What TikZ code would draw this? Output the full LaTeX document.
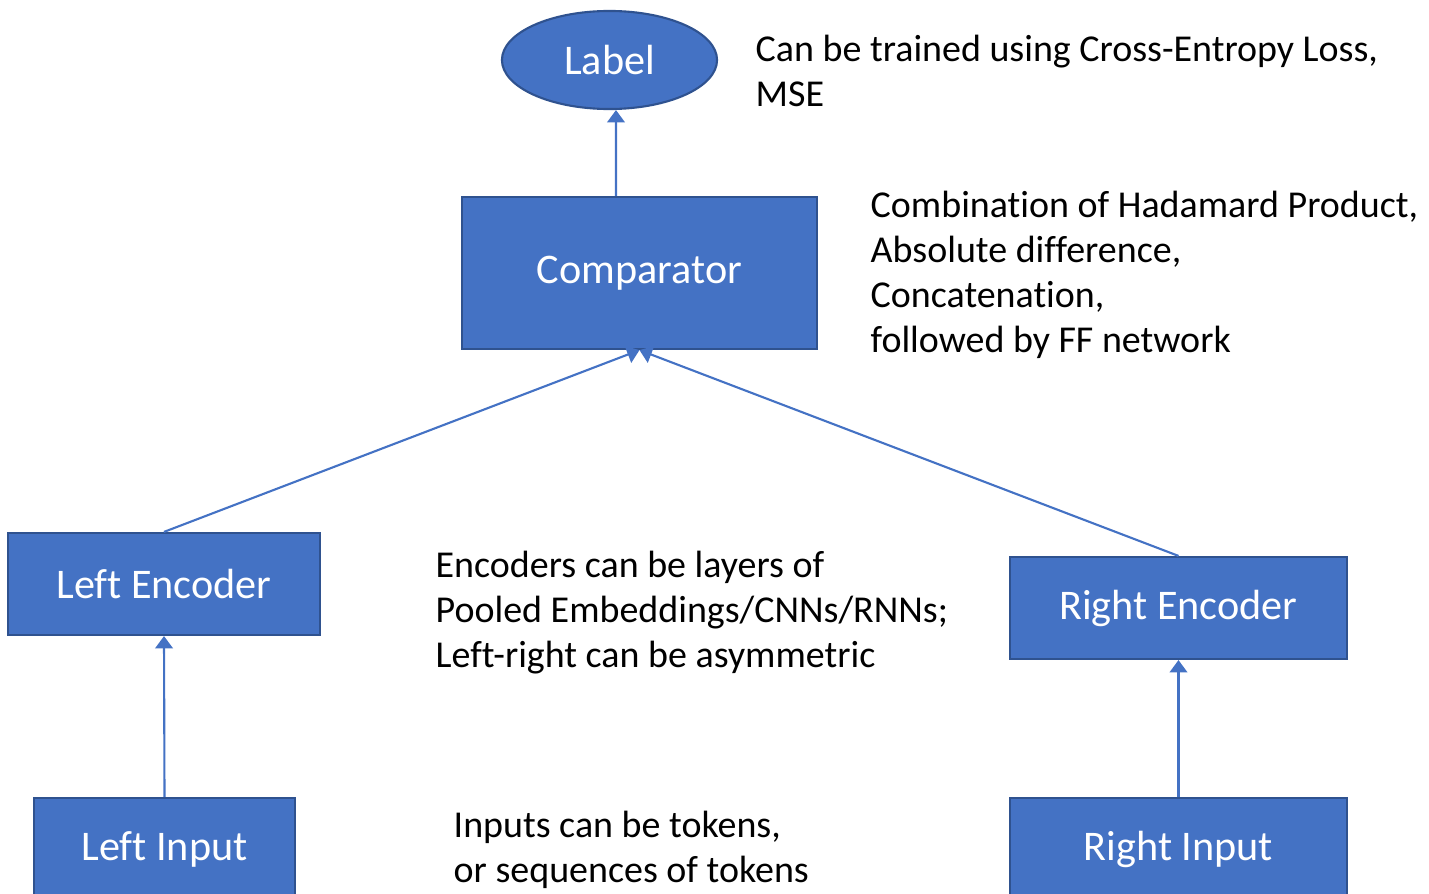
\documentclass[tikz,border=0pt]{standalone}
\usepackage{fontspec}
\setmainfont{Carlito}[Ligatures=NoCommon]
\usetikzlibrary{shapes.geometric,arrows.meta}
\definecolor{boxblue}{HTML}{4472C4}
\definecolor{edgeblue}{HTML}{2F528F}
\begin{document}
\begin{tikzpicture}[x=0.01cm,y=-0.01cm,
  box/.style={draw=edgeblue, fill=boxblue, line width=0.6pt, text=white, align=center, inner sep=0pt, font=\fontsize{12}{14}\selectfont},
  note/.style={anchor=base west, align=left, inner sep=0pt, font=\fontsize{10.8}{12.8}\selectfont},
  arr/.style={draw=boxblue, line width=0.6pt, -{Triangle[width=5pt,length=3.5pt]}}]
\useasboundingbox (0,0) rectangle (1429,894);
\clip (0,0) rectangle (1429,894);
\node[box, ellipse, minimum width=2.15cm, minimum height=0.98cm] (lbl) at (609.5,60) {Label};
\node[box, minimum width=3.55cm, minimum height=1.52cm] (comp) at (639.5,273) {Comparator};
\node[box, minimum width=3.12cm, minimum height=1.02cm] (lenc) at (164,584) {Left Encoder};
\node[box, minimum width=3.37cm, minimum height=1.02cm] (renc) at (1178.5,608) {Right Encoder};
\node[box, minimum width=2.61cm, minimum height=1.02cm] (linp) at (164.5,849) {Left Input};
\node[box, minimum width=3.37cm, minimum height=1.02cm] (rinp) at (1178.5,849) {Right Input};

\node[note] (lossnote) at (755,107) {Can be trained using Cross-Entropy Loss,\\MSE};
\node[note] (compnote) at (870,353) {Combination of Hadamard Product,\\Absolute difference,\\Concatenation,\\followed by FF network};
\node[note] (encnote) at (435,668) {Encoders can be layers of\\Pooled Embeddings/CNNs/RNNs;\\Left-right can be asymmetric};
\node[note] (inpnote) at (453,883) {Inputs can be tokens,\\or sequences of tokens};

\draw[arr] ([xshift=-0.235cm]comp.north) -- ([xshift=0.065cm]lbl.south);
\draw[arr] (lenc.north) -- (comp.south);
\draw[arr] (renc.north) -- (comp.south);
\draw[arr] (linp.north) -- (lenc.south);
\draw[arr] (rinp.north) -- (renc.south);
\end{tikzpicture}
\end{document}
